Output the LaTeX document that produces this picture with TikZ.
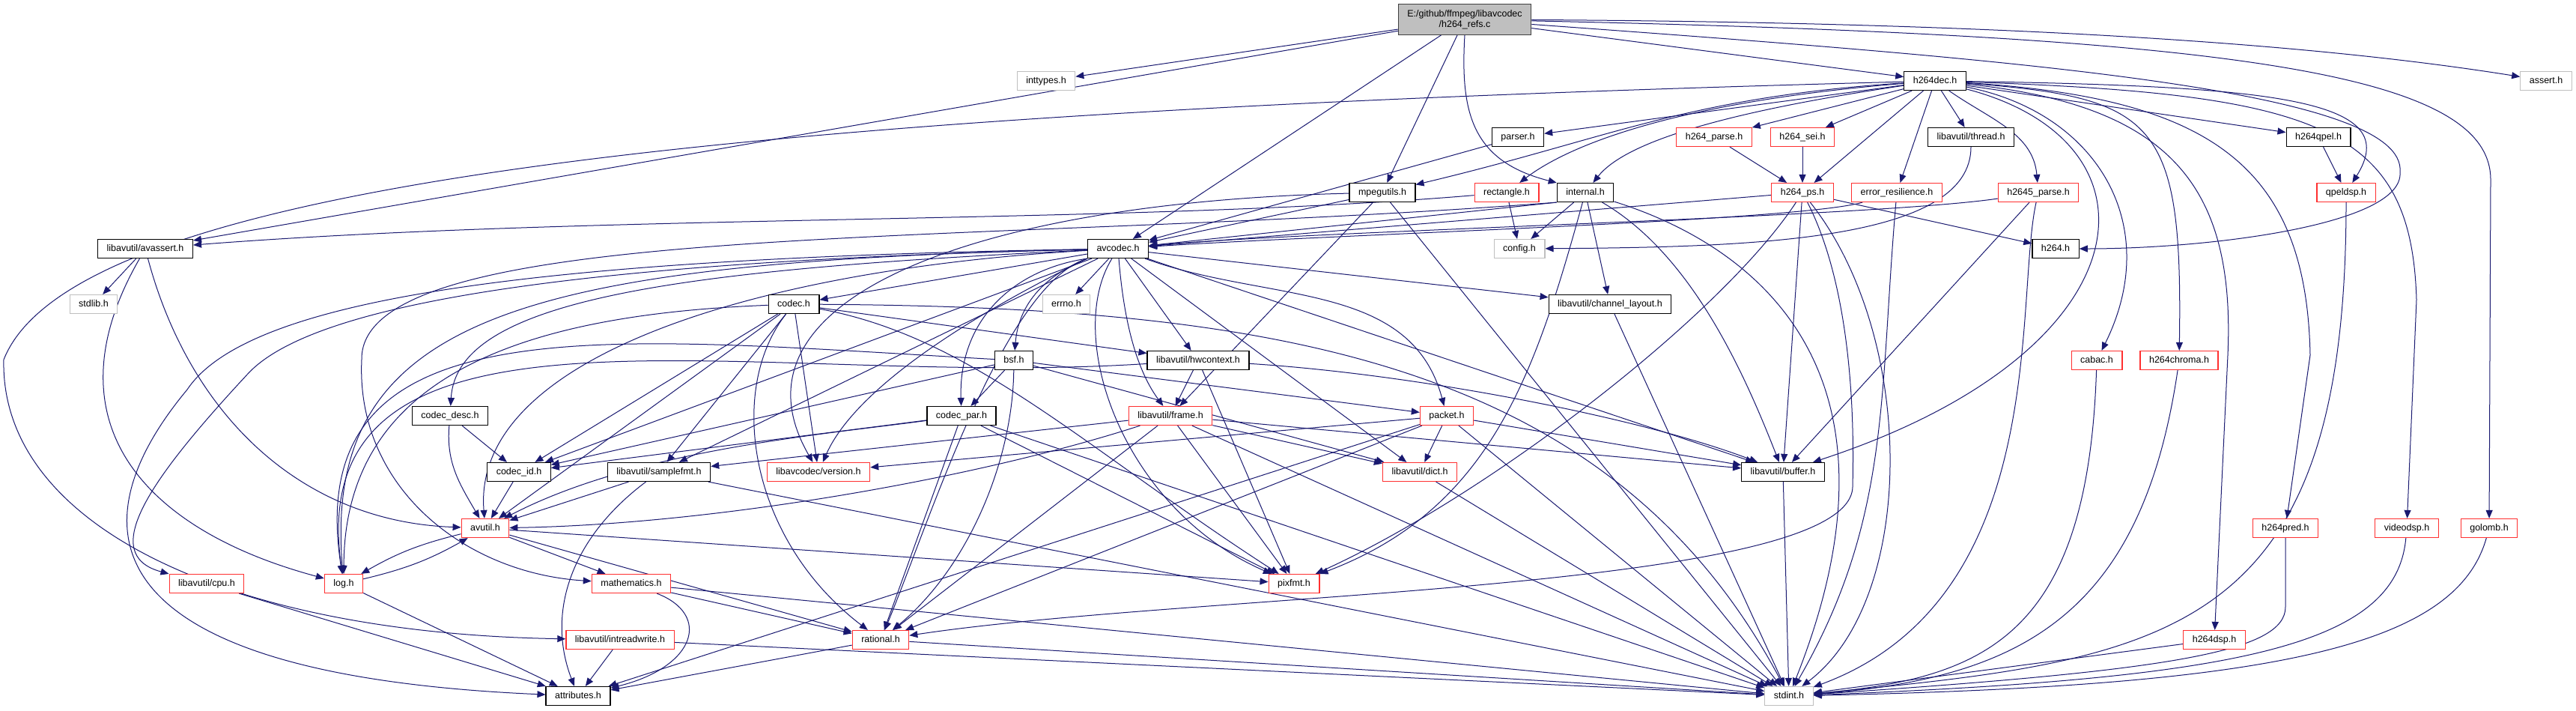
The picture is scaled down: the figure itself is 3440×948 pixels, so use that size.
\documentclass[tikz,border=0pt]{standalone}
\usepackage{fontspec}
\setmainfont{Liberation Sans}
\usetikzlibrary{arrows.meta,backgrounds}
\definecolor{edgeblue}{HTML}{191970}
\definecolor{trunkred}{HTML}{FF3030}
\definecolor{sysgray}{HTML}{BFBFBF}
\definecolor{rootgray}{HTML}{BFBFBF}
\definecolor{rootedge}{HTML}{404040}

\begin{document}
\begin{tikzpicture}[x=1pt, y=1pt, font=\fontsize{12.5}{14.5}\selectfont]
  \tikzset{
    filebox/.style={draw=black, line width=1.2pt, fill=white, inner xsep=12pt, inner ysep=0pt},
    box/.style={filebox, minimum height=25pt, text height=9pt, text depth=2.5pt},
    redbox/.style={box, draw=trunkred},
    sysbox/.style={box, draw=sysgray},
    rootbox/.style={filebox, draw=rootedge, fill=rootgray, align=center, minimum height=40.6pt},
    dep/.style={draw=edgeblue, line width=1pt, -{Triangle[length=11pt,width=9pt]}}
  }
  \useasboundingbox (0,0) rectangle (3440,-948);

  \node[rootbox] (ref) at (1956,-26) {E:/github/ffmpeg/libavcodec\\/h264\_refs.c};
  \node[sysbox] (inttypes) at (1397,-108) {inttypes.h};
  \node[box] (h264dec) at (2584,-108) {h264dec.h};
  \node[sysbox] (assertH) at (3400,-108) {assert.h};
  \node[box] (parser) at (2027,-183) {parser.h};
  \node[redbox] (hparse) at (2289,-183) {h264\_parse.h};
  \node[redbox] (hsei) at (2407,-183) {h264\_sei.h};
  \node[box] (thread) at (2632,-183) {libavutil/thread.h};
  \node[box] (qpel) at (3096,-183) {h264qpel.h};
  \node[box] (mpegutils) at (1846,-257) {mpegutils.h};
  \node[redbox] (rectangle) at (2012,-257) {rectangle.h};
  \node[box] (internal) at (2117,-257) {internal.h};
  \node[redbox] (hps) at (2407,-257) {h264\_ps.h};
  \node[redbox] (errres) at (2533,-257) {error\_resilience.h};
  \node[redbox] (hhparse) at (2722,-257) {h2645\_parse.h};
  \node[redbox] (qpeldsp) at (3133,-257) {qpeldsp.h};
  \node[box] (avassert) at (194,-332) {libavutil/avassert.h};
  \node[box] (avcodec) at (1493,-332) {avcodec.h};
  \node[sysbox] (config) at (2029,-332) {config.h};
  \node[box] (hdef) at (2745,-332) {h264.h};
  \node[sysbox] (stdlib) at (125,-406) {stdlib.h};
  \node[box] (codec) at (1060,-406) {codec.h};
  \node[sysbox] (errno) at (1424,-406) {errno.h};
  \node[box] (chlayout) at (2150,-406) {libavutil/channel\_layout.h};
  \node[box] (bsf) at (1354,-481) {bsf.h};
  \node[box] (hwctx) at (1600,-481) {libavutil/hwcontext.h};
  \node[redbox] (cabac) at (2800,-481) {cabac.h};
  \node[redbox] (chroma) at (2910,-481) {h264chroma.h};
  \node[box] (codecdesc) at (601,-555) {codec\_desc.h};
  \node[box] (codecpar) at (1284,-555) {codec\_par.h};
  \node[redbox] (frame) at (1563,-555) {libavutil/frame.h};
  \node[redbox] (packet) at (1932,-555) {packet.h};
  \node[box] (codecid) at (693,-630) {codec\_id.h};
  \node[box] (samplefmt) at (880,-630) {libavutil/samplefmt.h};
  \node[redbox] (version) at (1093,-630) {libavcodec/version.h};
  \node[redbox] (dict) at (1896,-630) {libavutil/dict.h};
  \node[box] (buffer) at (2381,-630) {libavutil/buffer.h};
  \node[redbox] (avutil) at (648,-705) {avutil.h};
  \node[redbox] (hpred) at (3052,-705) {h264pred.h};
  \node[redbox] (videodsp) at (3214,-705) {videodsp.h};
  \node[redbox] (golomb) at (3324,-705) {golomb.h};
  \node[redbox] (cpu) at (276,-779) {libavutil/cpu.h};
  \node[redbox] (logH) at (459,-779) {log.h};
  \node[redbox] (mathem) at (843,-779) {mathematics.h};
  \node[redbox] (pixfmt) at (1728,-779) {pixfmt.h};
  \node[redbox] (intrw) at (828,-854) {libavutil/intreadwrite.h};
  \node[redbox] (rational) at (1176,-854) {rational.h};
  \node[redbox] (hdsp) at (2957,-854) {h264dsp.h};
  \node[box] (attributes) at (772,-929) {attributes.h};
  \node[sysbox] (stdint) at (2389,-929) {stdint.h};

  \begin{scope}[on background layer]
  \fill[white] (0,0) rectangle (3440,-948);
  \draw[dep] (ref) -- (inttypes);
  \draw[dep] (ref) -- (avassert);
  \draw[dep] (ref) -- (avcodec);
  \draw[dep] (ref) -- (mpegutils);
  \draw[dep] (ref.south) .. controls (1950,-150) and (1965,-215) .. (internal.north west);
  \draw[dep] (ref) -- (h264dec);
  \draw[dep] (ref) .. controls (2700,-30) and (3100,-60) .. (assertH);
  \draw[dep] (ref) .. controls (3000,-48) and (3326,-100) .. (3326,-240) -- (golomb);
  \draw[dep] (ref) .. controls (2700,-80) and (3215,-120) .. (3205,-230) .. controls (3210,-300) and (2950,-332) .. (hdef.east);

  \draw[dep] (h264dec) .. controls (1000,-150) and (100,-240) .. (5,-480) .. controls (0,-700) and (300,-845) .. (intrw);
  \draw[dep] (h264dec) -- (parser);
  \draw[dep] (h264dec) .. controls (2250,-130) and (2150,-185) .. (mpegutils);
  \draw[dep] (h264dec) .. controls (2250,-135) and (2100,-190) .. (rectangle);
  \draw[dep] (h264dec) .. controls (2300,-150) and (2170,-190) .. (internal);
  \draw[dep] (h264dec) -- (hparse);
  \draw[dep] (h264dec) -- (hsei);
  \draw[dep] (h264dec) -- (hps);
  \draw[dep] (h264dec) -- (thread);
  \draw[dep] (h264dec) -- (errres);
  \draw[dep] (h264dec) to[out=-35,in=95] (hhparse);
  \draw[dep] (h264dec) -- (qpel);
  \draw[dep] (h264dec) .. controls (3050,-115) and (3210,-135) .. (qpeldsp);
  \draw[dep] (h264dec) .. controls (2800,-150) and (2890,-300) .. (cabac);
  \draw[dep] (h264dec) .. controls (2880,-130) and (2915,-160) .. (chroma);
  \draw[dep] (h264dec) .. controls (2900,-140) and (2985,-250) .. (2975,-474) -- (hdsp);
  \draw[dep] (h264dec) .. controls (2950,-130) and (3080,-220) .. (3085,-474) -- (hpred);
  \draw[dep] (h264dec) .. controls (3100,-125) and (3220,-170) .. (3227,-400) -- (videodsp);
  \draw[dep] (h264dec) .. controls (2900,-190) and (2870,-470) .. (buffer);

  \draw[dep] (parser) -- (avcodec);
  \draw[dep] (mpegutils) -- (avcodec);
  \draw[dep] (mpegutils) .. controls (1300,-270) and (960,-400) .. (version);
  \draw[dep] (mpegutils) -- (frame);
  \draw[dep] (mpegutils) -- (stdint);
  \draw[dep] (rectangle) -- (config);
  \draw[dep] (rectangle) .. controls (1500,-300) and (800,-285) .. (avassert);
  \draw[dep] (internal.south west) -- (avcodec);
  \draw[dep] (internal) -- (config);
  \draw[dep] (internal) -- (chlayout);
  \draw[dep] (internal.south west) .. controls (1300,-330) and (480,-290) .. (483,-480) .. controls (475,-650) and (620,-765) .. (mathem);
  \draw[dep] (internal) .. controls (2050,-500) and (1990,-680) .. (pixfmt);
  \draw[dep] (internal) .. controls (2260,-340) and (2330,-500) .. (buffer);
  \draw[dep] (internal) .. controls (2350,-330) and (2560,-500) .. (stdint);
  \draw[dep] (hparse) -- (hps);
  \draw[dep] (hsei) -- (hps);
  \draw[dep] (hps) -- (avcodec);
  \draw[dep] (hps) -- (hdef);
  \draw[dep] (hps) -- (buffer);
  \draw[dep] (hps) .. controls (2300,-420) and (1990,-660) .. (pixfmt);
  \draw[dep] (hps) .. controls (2480,-400) and (2475,-600) .. (2474,-650) .. controls (2470,-790) and (1600,-790) .. (rational);
  \draw[dep] (hps) .. controls (2560,-450) and (2560,-800) .. (stdint);
  \draw[dep] (thread) .. controls (2632,-320) and (2350,-330) .. (config);
  \draw[dep] (errres) .. controls (2400,-295) and (1800,-312) .. (avcodec);
  \draw[dep] (errres) to[out=-95,in=60] (stdint);
  \draw[dep] (hhparse) .. controls (2500,-290) and (1750,-308) .. (avcodec);
  \draw[dep] (hhparse) -- (buffer);
  \draw[dep] (hhparse) .. controls (2690,-400) and (2740,-800) .. (stdint);
  \draw[dep] (qpel) -- (qpeldsp);
  \draw[dep] (qpeldsp) .. controls (3133,-850) and (2900,-880) .. (stdint);
  \draw[dep] (cabac) .. controls (2788,-850) and (2650,-905) .. (stdint);
  \draw[dep] (chroma) .. controls (2860,-820) and (2700,-905) .. (stdint);
  \draw[dep] (hdsp) -- (stdint);
  \draw[dep] (hpred) -- (3052,-810) .. controls (3052,-870) and (2900,-895) .. (stdint);
  \draw[dep] (videodsp) .. controls (3200,-860) and (3000,-905) .. (stdint);
  \draw[dep] (golomb) .. controls (3280,-860) and (3050,-915) .. (stdint);

  \draw[dep] (avassert) -- (stdlib);
  \draw[dep] (avassert) to[out=-75,in=178] (avutil);
  \draw[dep] (avassert) to[out=-120,in=165,looseness=1.3] (logH);

  \draw[dep] (avcodec) -- (errno);
  \draw[dep] (avcodec) -- (codec);
  \draw[dep] (avcodec) -- (chlayout);
  \draw[dep] (avcodec) -- (hwctx);
  \draw[dep] (avcodec.south west) .. controls (1390,-370) and (1360,-410) .. (bsf);
  \draw[dep] (avcodec) .. controls (1500,-420) and (1515,-490) .. (frame);
  \draw[dep] (avcodec) to[out=-20,in=105] (packet);
  \draw[dep] (avcodec) -- (dict);
  \draw[dep] (avcodec) -- (buffer);
  \draw[dep] (avcodec) -- (samplefmt);
  \draw[dep] (avcodec) .. controls (700,-345) and (330,-400) .. (250,-520) .. controls (100,-700) and (110,-900) .. (attributes);
  \draw[dep] (avcodec) .. controls (800,-348) and (420,-400) .. (330,-500) .. controls (200,-640) and (130,-740) .. (cpu.north west);
  \draw[dep] (avcodec) .. controls (700,-350) and (430,-420) .. (logH);
  \draw[dep] (avcodec) .. controls (1000,-360) and (630,-480) .. (avutil);
  \draw[dep] (avcodec) .. controls (900,-360) and (610,-400) .. (codecdesc);
  \draw[dep] (avcodec) -- (codecid);
  \draw[dep] (avcodec.south west) .. controls (1350,-360) and (1280,-430) .. (codecpar);
  \draw[dep] (avcodec.south west) .. controls (1340,-380) and (1240,-700) .. (rational);
  \draw[dep] (avcodec) .. controls (1420,-450) and (1500,-680) .. (pixfmt);
  \draw[dep] (avcodec.south west) .. controls (1360,-390) and (1150,-500) .. (version);

  \draw[dep] (codec) .. controls (1700,-410) and (2150,-480) .. (stdint);
  \draw[dep] (codec) -- (avutil);
  \draw[dep] (codec) -- (hwctx);
  \draw[dep] (codec) .. controls (700,-420) and (460,-500) .. (logH);
  \draw[dep] (codec) .. controls (1300,-450) and (1450,-600) .. (pixfmt);
  \draw[dep] (codec) .. controls (970,-520) and (1000,-720) .. (rational);
  \draw[dep] (codec) -- (samplefmt);
  \draw[dep] (codec) -- (codecid);
  \draw[dep] (codec) -- (version);

  \draw[dep] (bsf) -- (dict);
  \draw[dep] (bsf) .. controls (800,-450) and (400,-400) .. (logH);
  \draw[dep] (bsf) .. controls (1352,-620) and (1290,-760) .. (rational);
  \draw[dep] (bsf) -- (codecid);
  \draw[dep] (bsf) -- (codecpar);
  \draw[dep] (bsf) -- (packet);
  \draw[dep] (hwctx) .. controls (1900,-500) and (2200,-560) .. (buffer);
  \draw[dep] (hwctx) -- (frame);
  \draw[dep] (hwctx) .. controls (1000,-520) and (400,-360) .. (logH);
  \draw[dep] (hwctx) -- (pixfmt);
  \draw[dep] (chlayout) -- (stdint);

  \draw[dep] (codecdesc) to[out=-95,in=120] (avutil);
  \draw[dep] (codecdesc) -- (codecid);
  \draw[dep] (codecpar) -- (stdint);
  \draw[dep] (codecpar) .. controls (1100,-580) and (850,-600) .. (avutil);
  \draw[dep] (codecpar) -- (rational);
  \draw[dep] (codecpar) -- (pixfmt);
  \draw[dep] (codecpar) -- (codecid);
  \draw[dep] (frame) -- (stdint);
  \draw[dep] (frame) .. controls (1300,-640) and (950,-700) .. (avutil);
  \draw[dep] (frame) -- (buffer);
  \draw[dep] (frame) -- (dict);
  \draw[dep] (frame) -- (rational);
  \draw[dep] (frame) -- (samplefmt);
  \draw[dep] (frame) -- (pixfmt);
  \draw[dep] (packet) -- (stdint);
  \draw[dep] (packet) -- (attributes);
  \draw[dep] (packet) -- (buffer);
  \draw[dep] (packet) -- (dict);
  \draw[dep] (packet) -- (rational);
  \draw[dep] (packet) -- (version);

  \draw[dep] (codecid) -- (avutil);
  \draw[dep] (samplefmt) -- (stdint);
  \draw[dep] (samplefmt) -- (avutil);
  \draw[dep] (samplefmt) .. controls (760,-720) and (730,-820) .. (attributes);
  \draw[dep] (dict) -- (stdint);
  \draw[dep] (buffer) -- (stdint);
  \draw[dep] (avutil) to[bend right=8] (logH);
  \draw[dep] (logH) to[bend right=8] (avutil);
  \draw[dep] (avutil) -- (mathem);
  \draw[dep] (avutil) -- (rational);
  \draw[dep] (avutil) -- (pixfmt);
  \draw[dep] (logH) -- (attributes);
  \draw[dep] (cpu) -- (attributes);
  \draw[dep] (mathem) -- (stdint);
  \draw[dep] (mathem) .. controls (950,-820) and (930,-890) .. (attributes);
  \draw[dep] (mathem) -- (rational);
  \draw[dep] (intrw) -- (stdint);
  \draw[dep] (intrw) -- (attributes);
  \draw[dep] (rational) -- (stdint);
  \draw[dep] (rational) -- (attributes);
  \end{scope}
\end{tikzpicture}
\end{document}
